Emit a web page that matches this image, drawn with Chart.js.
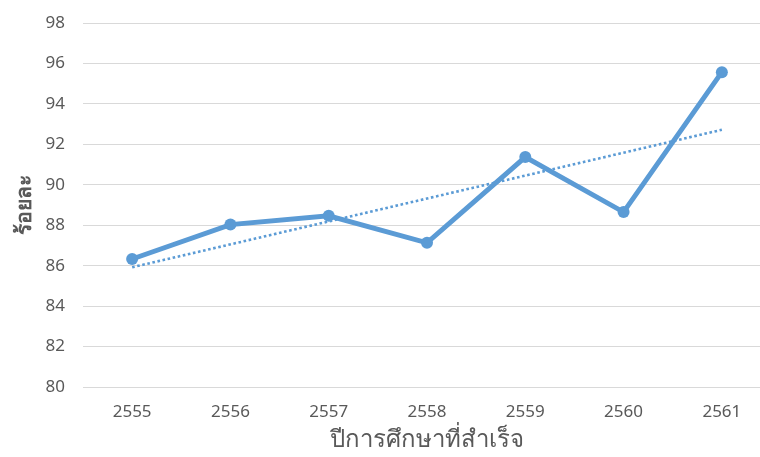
<!DOCTYPE html>
<html>
<head>
<meta charset="utf-8">
<script src="https://cdn.jsdelivr.net/npm/chart.js@4"></script>
<style>
  html, body { margin: 0; padding: 0; background: #fff; overflow: hidden; }
  #wrap { width: 780px; height: 457px; }
</style>
</head>
<body>
<div id="wrap"><canvas id="c" width="780" height="457"></canvas></div>
<script>
const categories = ['2555', '2556', '2557', '2558', '2559', '2560', '2561'];
const percentValues = [86.33, 88.03, 88.47, 87.13, 91.37, 88.65, 95.57];
const trendValues = [85.92, null, null, null, null, null, 92.72];
const yTickMin = 80, yTickMax = 98, yTickStep = 2;
const yTitle = 'ร้อยละ';
const xTitle = 'ปีการศึกษาที่สำเร็จ';

const blue = '#5B9BD5';
const tickColor = '#595959';
const fontFamily = '"Noto Sans", "Open Sans", sans-serif';

new Chart(document.getElementById('c'), {
  type: 'line',
  data: {
    labels: categories,
    datasets: [
      {
        label: 'ร้อยละ',
        data: percentValues,
        borderColor: blue,
        backgroundColor: blue,
        borderWidth: 5,
        pointRadius: 6,
        pointBackgroundColor: blue,
        pointBorderWidth: 0,
        tension: 0,
        order: 1
      },
      {
        label: 'trend',
        data: trendValues,
        spanGaps: true,
        borderColor: blue,
        borderWidth: 2.6,
        borderDash: [2.6, 2.6],
        pointRadius: 0,
        fill: false,
        order: 0
      }
    ]
  },
  options: {
    responsive: false,
    animation: false,
    events: [],
    layout: { padding: { top: 23, right: 9, left: 0, bottom: 0 } },
    plugins: { legend: { display: false }, tooltip: { enabled: false } },
    scales: {
      x: {
        type: 'category',
        offset: true,
        grid: { display: false, drawTicks: false },
        border: { display: false },
        ticks: { color: tickColor, padding: 15, font: { family: fontFamily, size: 17 } },
        title: {
          display: true,
          text: xTitle,
          color: tickColor,
          font: { family: fontFamily, size: 24 },
          padding: { top: 0, bottom: 2 }
        },
        afterFit: (s) => { s.height = 70; s.paddingLeft = 0; s.paddingRight = 0; }
      },
      y: {
        min: yTickMin,
        max: yTickMax,
        grid: { color: '#d9d9d9', lineWidth: 1, drawTicks: false },
        border: { display: false },
        ticks: {
          stepSize: yTickStep,
          color: tickColor,
          padding: 18,
          font: { family: fontFamily, size: 17 }
        },
        title: {
          display: true,
          text: yTitle,
          color: tickColor,
          font: { family: fontFamily, size: 21, weight: 'bold' },
          padding: { top: 12, bottom: 0 }
        },
        afterFit: (s) => { s.width = 83; s.paddingTop = 0; s.paddingBottom = 0; }
      }
    }
  }
});
</script>
</body>
</html>
